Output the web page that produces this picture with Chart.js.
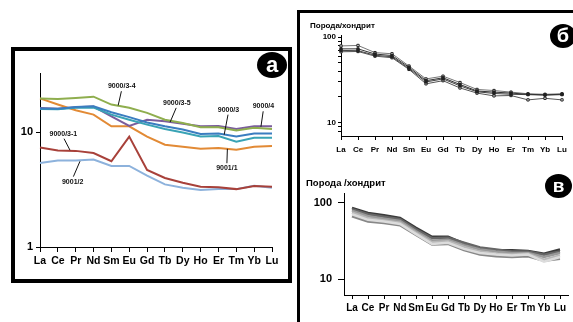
<!DOCTYPE html>
<html>
<head>
<meta charset="utf-8">
<script src="https://cdn.jsdelivr.net/npm/chart.js@4.4.1/dist/chart.umd.min.js"></script>
<style>
    body { margin: 0; background: #fff; width: 573px; height: 322px; overflow: hidden; position: relative; font-family: "Liberation Sans", Arial, sans-serif; }
    .box { position: absolute; border: solid #000; box-sizing: border-box; }
    #boxA { left: 11px; top: 47px; width: 281px; height: 236px; border-width: 4px; }
    #boxRight { left: 297px; top: 10px; width: 290px; height: 330px; border-width: 3px 0 0 3px; }
    canvas { position: absolute; }
    .badge { position: absolute; background: #000; color: #fff; font-weight: bold; text-align: center; border-radius: 50%; }
    .ptitle { position: absolute; font-weight: bold; color: #000; white-space: nowrap; }
</style>
</head>
<body>
<div class="box" id="boxA"></div>
<div class="box" id="boxRight"></div>

<canvas id="chartA" width="273" height="228" style="left:15px;top:51px"></canvas>
<canvas id="chartB" width="273" height="145" style="left:300px;top:13px"></canvas>
<canvas id="chartV" width="273" height="162" style="left:300px;top:160px"></canvas>

<div class="ptitle" style="left:310px;top:21px;font-size:8px">Порода/хондрит</div>
<div class="ptitle" style="left:306px;top:177px;font-size:9.5px">Порода /хондрит</div>

<div class="badge" style="left:257px;top:52px;width:30px;height:26px;line-height:25px;font-size:22px">а</div>
<div class="badge" style="left:550px;top:24px;width:26px;height:24px;line-height:23px;font-size:20px">б</div>
<div class="badge" style="left:545px;top:174px;width:27px;height:24px;line-height:23px;font-size:19px">в</div>

<script>
// REE elements (x categories, shared by all three panels)
const elements = ["La", "Ce", "Pr", "Nd", "Sm", "Eu", "Gd", "Tb", "Dy", "Ho", "Er", "Tm", "Yb", "Lu"];

// panel "а" - rock/chondrite, individual samples
const s9000_3 = [16.2, 16.1, 16.7, 16.9, 15.0, 13.6, 12.2, 11.3, 10.6, 9.7, 9.8, 9.2, 9.8, 9.8];
const s9000_4 = [16.0, 15.9, 16.4, 16.5, 14.3, 12.9, 11.7, 10.7, 10.0, 9.2, 9.3, 8.3, 9.0, 9.0];
const s9000_3_4 = [19.8, 19.6, 20.0, 20.5, 17.5, 16.4, 14.8, 12.9, 12.1, 11.1, 11.1, 10.4, 11.0, 10.7];
const s9000_3_5 = [16.3, 16.1, 16.6, 16.8, 13.8, 11.4, 12.9, 12.5, 11.9, 11.3, 11.4, 10.7, 11.3, 11.3];
const s9001_1 = [19.8, 17.5, 15.6, 14.3, 11.3, 11.3, 9.2, 7.8, 7.5, 7.2, 7.3, 7.06, 7.5, 7.6];
const s9000_3_1 = [7.4, 6.95, 6.9, 6.6, 5.6, 9.2, 4.7, 4.0, 3.64, 3.36, 3.32, 3.2, 3.4, 3.36];
const s9001_2 = [5.4, 5.7, 5.7, 5.8, 5.1, 5.1, 4.2, 3.52, 3.29, 3.14, 3.2, 3.2, 3.43, 3.29];
const ticksA = [1, 10];

// panel "б"
const b1 = [79, 80, 66, 64, 46, 32.5, 35, 29.5, 24.5, 23.8, 22.8, 21.8, 21.5, 21.8];
const b2 = [73, 73, 63.5, 61, 44.5, 31, 33.5, 28, 23.5, 22.8, 22.2, 21.5, 21.2, 21.5];
const b3 = [70, 69.5, 61.5, 59, 43, 30, 32.5, 27, 23, 22, 21.5, 21.3, 21, 21.3];
const b4 = [67.5, 68, 60, 57.5, 42, 28.5, 31, 25.5, 22.2, 20.6, 20.8, 18.5, 19.3, 18.5];
const ticksB = [8, 9, 10, 20, 30, 40, 50, 60, 70, 80, 90, 100];

// panel "в"
const v1 = [86, 74, 69, 63.5, 47, 36, 36, 29.5, 25.5, 24, 24, 23.5, 21.5, 24.5];
const v2 = [83, 71, 66, 61, 45, 34.5, 35, 30, 26, 24.5, 23, 23, 21, 23];
const v3 = [79, 67, 62, 58, 42.5, 32, 33, 28, 24.5, 23, 22, 22, 19.5, 22];
const v4 = [75, 63, 59, 55, 40.5, 30.5, 31.5, 26.5, 23, 21.5, 21, 21.5, 18, 20.5];
const v5 = [71, 60, 57, 53, 39, 29, 30, 25, 22, 21, 20.5, 21, 17, 19.5];
const v6 = [67, 57, 54.5, 51, 38, 28.5, 29, 24, 21, 20, 19.5, 20, 17.5, 18.5];
const ticksV = [10, 100];

// sample name callouts for panel "а": text anchor and pointer end, in data units
const callouts = [
    { text: "9000/3-4", at: [4.58, 25.3], to: [4.38, 17.2] },
    { text: "9000/3-5", at: [7.67, 18.1], to: [7.29, 12.3] },
    { text: "9000/3", at: [10.56, 15.8], to: [10.32, 9.55] },
    { text: "9000/4", at: [12.52, 16.9], to: [12.38, 11.2] },
    { text: "9000/3-1", at: [1.31, 9.75], to: [1.68, 7.0] },
    { text: "9001/1", at: [10.47, 4.87], to: [10.5, 7.2] },
    { text: "9001/2", at: [1.83, 3.72], to: [2.24, 5.6] }
];

const FONT = "'Liberation Sans', Arial, sans-serif";

const calloutPlugin = {
    id: "callouts",
    afterDatasetsDraw(chart) {
        let ctx = chart.ctx;
        let xs = chart.scales.x, ys = chart.scales.y;
        ctx.save();
        ctx.font = "bold 7px " + FONT;
        ctx.fillStyle = "#111";
        ctx.strokeStyle = "#111";
        ctx.lineWidth = 1;
        ctx.textAlign = "center";
        ctx.textBaseline = "middle";
        callouts.forEach(c => {
            let tx = xs.getPixelForValue(c.at[0]), ty = ys.getPixelForValue(c.at[1]);
            let px = xs.getPixelForValue(c.to[0]), py = ys.getPixelForValue(c.to[1]);
            ctx.fillText(c.text, tx, ty);
            let sy = py > ty ? ty + 5 : ty - 5;
            ctx.beginPath();
            ctx.moveTo(tx + (px - tx) * 0.1, sy);
            ctx.lineTo(px, py);
            ctx.stroke();
        });
        ctx.restore();
    }
};

function axisX(fontSize, tickLen, pad, offset, height) {
    return {
        type: "category",
        offset: offset,
        border: { display: true, color: "#000", width: 1 },
        grid: { display: true, drawOnChartArea: false, drawTicks: true, tickLength: tickLen, color: "#000" },
        ticks: { color: "#000", padding: pad, autoSkip: false, maxRotation: 0, font: { family: FONT, size: fontSize, weight: "bold" } },
        afterFit: s => { s.height = height; }
    };
}

function axisY(min, max, tickList, fontSize, tickLen, pad, width) {
    return {
        type: "logarithmic",
        min: min,
        max: max,
        border: { display: true, color: "#000", width: 1 },
        grid: { display: true, drawOnChartArea: false, drawTicks: true, tickLength: tickLen, color: "#000" },
        ticks: {
            color: "#000",
            padding: pad,
            autoSkip: false,
            font: { family: FONT, size: fontSize, weight: "bold" },
            callback: v => (v === 1 || v === 10 || v === 100) ? String(v) : ""
        },
        afterBuildTicks: s => { s.ticks = tickList.map(v => ({ value: v })); },
        afterFit: s => { s.width = width; }
    };
}

function baseOptions(padding, x, y) {
    return {
        responsive: false,
        animation: false,
        devicePixelRatio: 1,
        layout: { padding: padding },
        plugins: { legend: { display: false }, tooltip: { enabled: false } },
        scales: { x: x, y: y }
    };
}

function lineSet(data, color, width) {
    return { data: data, borderColor: color, borderWidth: width, pointRadius: 0, tension: 0, fill: false };
}

// ---- panel а
new Chart(document.getElementById("chartA"), {
    type: "line",
    data: {
        labels: elements,
        datasets: [
            lineSet(s9000_3, "#3b7dc0", 2),
            lineSet(s9000_4, "#39a3b5", 2),
            lineSet(s9000_3_4, "#8fae4e", 2),
            lineSet(s9000_3_5, "#7a5c9c", 2),
            lineSet(s9001_1, "#e28a35", 2),
            lineSet(s9000_3_1, "#a8413a", 2),
            lineSet(s9001_2, "#8db2dc", 2)
        ]
    },
    options: baseOptions({ top: 22, right: 16, left: 0, bottom: 0 },
        axisX(10.5, 5, 3, false, 32),
        axisY(1, 33, ticksA, 11, 4, 3, 25)),
    plugins: [calloutPlugin]
});

// ---- panel б
function markSet(data, line, fillColor) {
    return {
        data: data, borderColor: line, borderWidth: 1, tension: 0, fill: false,
        pointStyle: "rect", pointRadius: 1.6, pointBorderColor: "#222", pointBorderWidth: 1,
        pointBackgroundColor: fillColor
    };
}

new Chart(document.getElementById("chartB"), {
    type: "line",
    data: {
        labels: elements,
        datasets: [
            markSet(b2, "#333", "#222"),
            markSet(b3, "#444", "#222"),
            markSet(b1, "#777", "#fff"),
            markSet(b4, "#555", "#fff")
        ]
    },
    options: baseOptions({ top: 22, right: 11, left: 0, bottom: 0 },
        axisX(8, 4, 5, false, 22),
        axisY(7, 106, ticksB, 8, 3, 2, 41))
});

// ---- panel в
new Chart(document.getElementById("chartV"), {
    type: "line",
    data: {
        labels: elements,
        datasets: [
            lineSet(v5, "#dcdcdc", 2.5),
            lineSet(v4, "#b8b8b8", 2.5),
            lineSet(v3, "#999", 2.5),
            lineSet(v6, "#888", 2.5),
            lineSet(v2, "#666", 2.5),
            lineSet(v1, "#3a3a3a", 2.5)
        ]
    },
    options: baseOptions({ top: 33, right: 5, left: 0, bottom: 0 },
        axisX(10, 4, 3, true, 27),
        axisY(6.2, 135, ticksV, 11, 6, 6, 44))
});
</script>
</body>
</html>
